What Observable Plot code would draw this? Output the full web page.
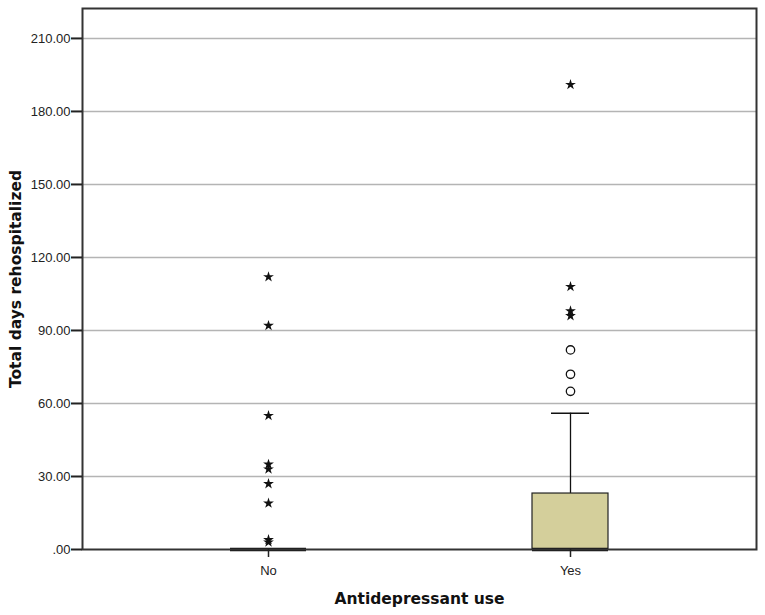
<!DOCTYPE html>
<html>
<head>
<meta charset="utf-8">
<script src="https://cdn.jsdelivr.net/npm/d3@7"></script>
<script src="https://cdn.jsdelivr.net/npm/@observablehq/plot@0.6"></script>
<style>
  html, body { margin: 0; padding: 0; background: #fff; }
  #chart svg { display: block; }
  [aria-label="y-axis tick label"] text, [aria-label="x-axis tick label"] text {
    font-family: "Liberation Sans", Arial, sans-serif; font-size: 13px; fill: #222;
  }
  [aria-label="y-axis label"] text, [aria-label="x-axis label"] text {
    font-family: "DejaVu Sans", sans-serif; font-weight: bold; font-size: 15.5px; fill: #111;
  }
</style>
</head>
<body>
<div id="chart"></div>
<script>
// ---- data ----
const groups = ["No", "Yes"];
const boxQ1 = [0, 0];
const boxMedian = [0, 0];
const boxQ3 = [0, 23];
const whiskerLow = [0, 0];
const whiskerHigh = [0, 56];
const noExtremes = [112, 92, 55, 35, 33, 27, 19, 4, 3];   // stars
const yesExtremes = [191, 108, 98, 96];                    // stars
const yesOutliers = [82, 72, 65];                          // circles
const yTicks = [0, 30, 60, 90, 120, 150, 180, 210];

const boxes = groups.map((g, i) => ({
  group: g, q1: boxQ1[i], median: boxMedian[i], q3: boxQ3[i],
  lo: whiskerLow[i], hi: whiskerHigh[i]
}));
const whiskerBoxes = boxes.filter(d => d.hi > d.q3);
const stars = [
  ...noExtremes.map(v => ({group: "No", value: v})),
  ...yesExtremes.map(v => ({group: "Yes", value: v}))
];
const circles = yesOutliers.map(v => ({group: "Yes", value: v}));

const chart = Plot.plot({
  width: 765,
  height: 615,
  marginLeft: 82,
  marginRight: 9,
  marginTop: 8,
  marginBottom: 66,
  style: {fontFamily: "'Liberation Sans', Arial, sans-serif", fontSize: "13px", color: "#222", background: "#fff"},
  x: {domain: groups, paddingInner: 0.749, paddingOuter: 0.487, label: null},
  y: {domain: [0, 222.3], label: null},
  marks: [
    Plot.gridY(yTicks.filter(t => t > 0), {stroke: "#b4b4b4", strokeOpacity: 1, strokeWidth: 1.5}),
    Plot.ruleX(whiskerBoxes, {x: "group", y1: "q3", y2: "hi", stroke: "#111", strokeWidth: 1.3}),
    Plot.tickY(whiskerBoxes, {x: "group", y: "hi", stroke: "#111", strokeWidth: 1.6, insetLeft: 19, insetRight: 19}),
    Plot.barY(boxes.filter(d => d.q3 > d.q1), {x: "group", y1: "q1", y2: "q3", fill: "#d4cf9b", stroke: "#222", strokeWidth: 1.2}),
    Plot.tickY(boxes, {x: "group", y: "median", stroke: "#111", strokeWidth: 3.5}),
    Plot.dot(circles, {x: "group", y: "value", r: 4.2, stroke: "#111", strokeWidth: 1.3, fill: "#fff"}),
    Plot.dot(stars, {x: "group", y: "value", symbol: "star", r: 3.4, fill: "#111", stroke: "none"}),
    Plot.frame({stroke: "#333", strokeWidth: 2}),
    Plot.axisY({ticks: yTicks, tickSize: 11, tickPadding: 1,
      tickFormat: d => d === 0 ? ".00" : d.toFixed(2),
      label: "Total days rehospitalized", labelAnchor: "center", labelArrow: "none", labelOffset: 73, strokeWidth: 2}),
    Plot.axisX({tickSize: 8, tickPadding: 8,
      label: "Antidepressant use", labelAnchor: "center", labelArrow: "none", labelOffset: 54, strokeWidth: 1.5})
  ]
});
document.getElementById("chart").appendChild(chart);
</script>
</body>
</html>
